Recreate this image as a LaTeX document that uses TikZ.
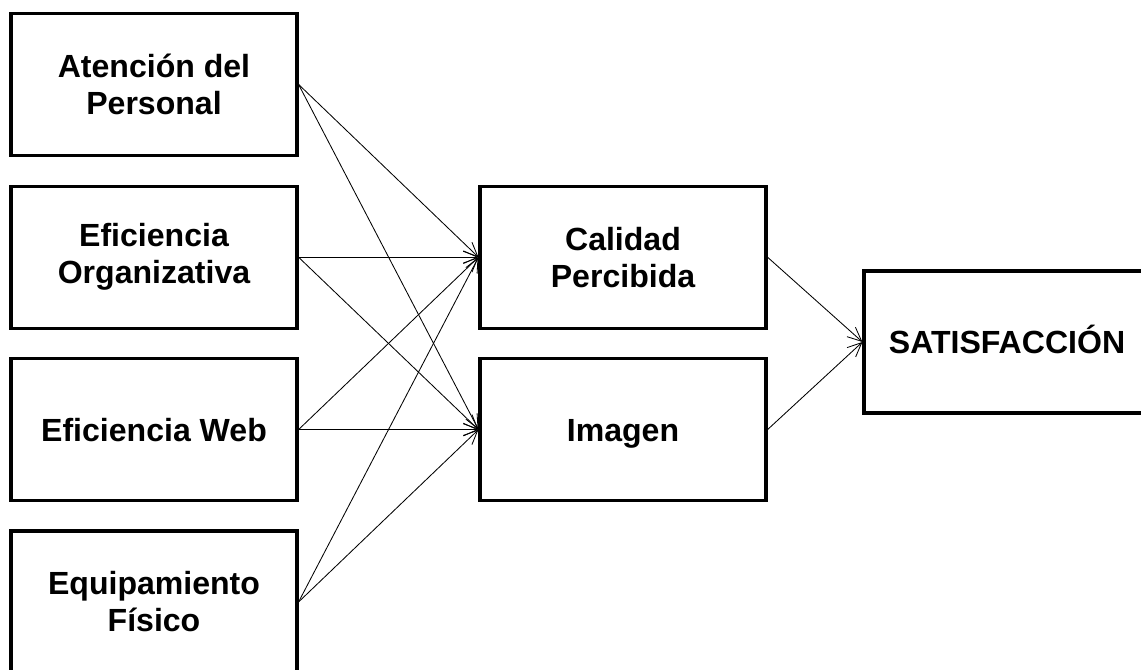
\documentclass[tikz,border=0pt]{standalone}
\usepackage{fontspec}
\setmainfont{Liberation Sans}
\usetikzlibrary{arrows.meta}

\tikzset{
caja/.style={draw, line width=2.2pt, minimum width=7.15cm, minimum height=3.55cm,
  align=center, font=\fontsize{22.8}{26.3}\selectfont\bfseries},
unalinea/.style={text height=16.3pt, text depth=0pt},
flecha/.style={line width=0.6pt, -{Straight Barb[length=10pt,width=9pt]}}
}

\begin{document}
\begin{tikzpicture}
\useasboundingbox (0,0) rectangle (28.525,-16.75);
\clip (0,0) rectangle (28.525,-16.75);

% columna izquierda
\node[caja] (aten) at (3.85,-2.11) {Atención del\\Personal};
\node[caja] (efor) at (3.85,-6.43) {Eficiencia\\Organizativa};
\node[caja,unalinea] (efweb) at (3.85,-10.74) {Eficiencia Web};
\node[caja] (equip) at (3.85,-15.05) {Equipamiento\\Físico};

% columna central
\node[caja] (calidad) at (15.575,-6.43) {Calidad\\Percibida};
\node[caja,unalinea] (imagen) at (15.575,-10.74) {Imagen};

\node[caja,unalinea] (satis) at (25.175,-8.55) {SATISFACCIÓN};

\foreach \a in {aten,efor,efweb,equip}
{
	\draw[flecha] (\a.east) -- (calidad.west);
	\draw[flecha] (\a.east) -- (imagen.west);
}

\draw[flecha] (calidad.east) -- (satis.west);
\draw[flecha] (imagen.east) -- (satis.west);
\end{tikzpicture}
\end{document}
